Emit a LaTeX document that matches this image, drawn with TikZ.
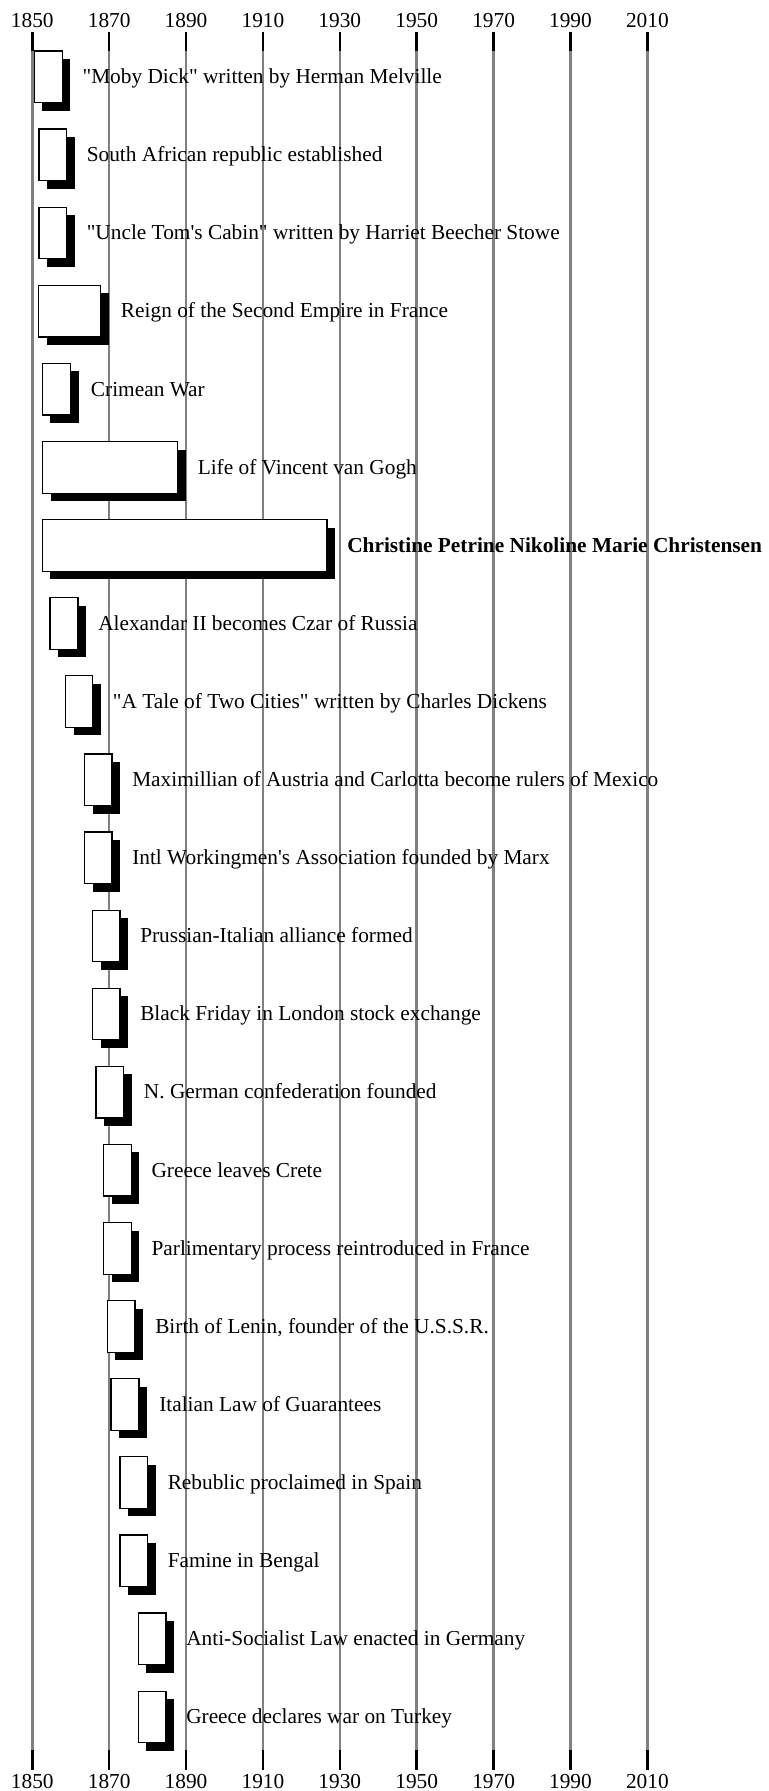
\documentclass[tikz,border=0pt]{standalone}
\usepackage{fontspec}
\setmainfont{Liberation Serif}[Ligatures=TeXOff]

\tikzset{
  gridline/.style={draw=gray, line width=1.9pt},
  tickline/.style={draw=black, line width=1.9pt},
  yearlabel/.style={anchor=base, inner sep=0pt},
  shadowbox/.style={fill=black},
  eventbox/.style={fill=white, draw=black, line width=0.9pt},
  eventlabel/.style={anchor=base west, inner sep=0pt}
}

\begin{document}
\begin{tikzpicture}[x=0.75pt, y=-0.75pt, font=\fontsize{16}{19}\selectfont]

\def\xa{32.3} % x of 1850
\def\pxyr{3.844} % px per year
\def\ytop{51} % top of grid
\def\ybot{1750} % bottom of grid
\def\dy{78.1} % row pitch
\def\bh{51.6} % box height
\def\sh{8} % shadow offset

\useasboundingbox (0,0) rectangle (768,1791);

% year grid
\foreach \yr in {1850,1870,...,2010} {
  \pgfmathsetmacro\xx{\xa+(\yr-1850)*\pxyr}
  \draw[gridline] (\xx,\ytop) -- (\xx,\ybot);
  \draw[tickline] (\xx,32) -- (\xx,\ytop);
  \draw[tickline] (\xx,\ybot) -- (\xx,1770);
  \node[yearlabel] (top\yr) at (\xx,27.3) {\yr};
  \node[yearlabel] (bot\yr) at (\xx,1788) {\yr};
}

% events: left/right/text
\foreach \l/\r/\txt [count=\i] in {
  34.3/62.3/{"Moby Dick" written by Herman Melville},
  38.9/66.5/{South African republic established},
  38.9/66.5/{"Uncle Tom's Cabin" written by Harriet Beecher Stowe},
  38.5/100.7/{Reign of the Second Empire in France},
  42.3/70.7/{Crimean War},
  42.6/177.5/{Life of Vincent van Gogh},
  42.3/327/{\textbf{Christine Petrine Nikoline Marie Christensen}},
  50/78/{Alexandar II becomes Czar of Russia},
  65.7/92.7/{"A Tale of Two Cities" written by Charles Dickens},
  84.7/112/{Maximillian of Austria and Carlotta become rulers of Mexico},
  84.7/112/{Intl Workingmen's Association founded by Marx},
  92.6/120/{Prussian-Italian alliance formed},
  92.6/120/{Black Friday in London stock exchange},
  96/123.7/{N. German confederation founded},
  103.7/131.3/{Greece leaves Crete},
  103.7/131.3/{Parlimentary process reintroduced in France},
  107.4/135/{Birth of Lenin, founder of the U.S.S.R.},
  111/139/{Italian Law of Guarantees},
  120/147.5/{Rebublic proclaimed in Spain},
  120/147.5/{Famine in Bengal},
  138.3/166/{Anti-Socialist Law enacted in Germany},
  138.3/166/{Greece declares war on Turkey}} {
  \pgfmathsetmacro\yt{\ytop+\dy*(\i-1)}
  \fill[shadowbox] (\l+\sh,\yt+\sh) rectangle (\r+\sh,\yt+\bh+\sh);
  \filldraw[eventbox] (\l,\yt) rectangle (\r,\yt+\bh);
  \node[eventlabel] (ev\i) at (\r+20,\yt+32.6) {\txt};
}

\end{tikzpicture}
\end{document}
